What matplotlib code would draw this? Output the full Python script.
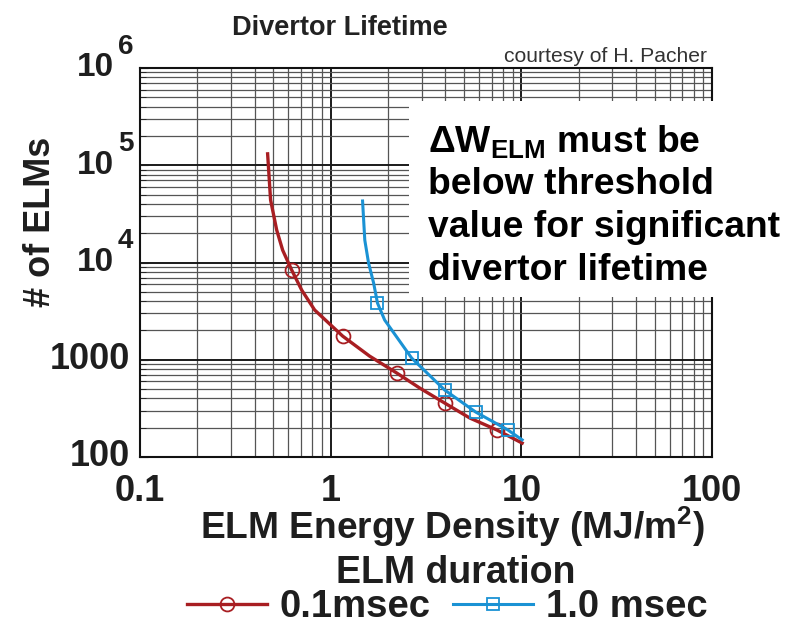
import matplotlib
matplotlib.use('Agg')
import matplotlib.pyplot as plt
from matplotlib.patches import Rectangle
from matplotlib.ticker import FixedLocator, LogLocator, NullFormatter
from matplotlib.transforms import offset_copy

plt.rcParams['font.family'] = ['Liberation Sans', 'DejaVu Sans']
plt.rcParams['font.weight'] = 'bold'
plt.rcParams['mathtext.fontset'] = 'custom'
plt.rcParams['mathtext.rm'] = 'Liberation Sans:bold'
plt.rcParams['mathtext.bf'] = 'Liberation Sans:bold'
plt.rcParams['mathtext.default'] = 'bf'

# curva 0.1 msec
red_x = [0.467, 0.484, 0.521, 0.56, 0.624, 0.705, 0.824, 1.156, 1.6, 2.22, 2.93, 3.96, 5.36, 7.43, 10.1]
red_y = [1.31e5, 4.4e4, 2.16e4, 1.34e4, 8.4e3, 5.2e3, 3.25e3, 1.75e3, 1.09e3, 731, 512, 359, 252, 190, 139]
red_marks = [4, 7, 9, 11, 13]

# curva 1.0 msec
blue_x = [1.47, 1.51, 1.58, 1.68, 1.76, 1.92, 2.66, 3.96, 5.76, 8.49, 10.1]
blue_y = [4.29e4, 1.7e4, 9.9e3, 6.15e3, 3.83e3, 2.56e3, 1.04e3, 489, 290, 190, 150]
blue_marks = [4, 6, 7, 8, 9]

x_ticks = [0.1, 1, 10, 100]
x_labels = ['0.1', '1', '10', '100']
y_ticks = [100, 1000, 1e4, 1e5, 1e6]
y_labels = ['100', '1000', '10', '10', '10']
y_exps = ['', '', '4', '5', '6']

note_lines = [r'$\Delta W_{ELM}$ must be', 'below threshold',
              'value for significant', 'divertor lifetime']

W, H = 800, 628
RED = '#a81e22'
BLUE = '#1a92d4'
INK = '#1e1e1e'
BIG = 27


def fx(x):
    return x / W


def fy(y):
    return 1 - y / H


fig = plt.figure(figsize=(W / 100, H / 100), dpi=100)
ax = fig.add_axes([fx(140), fy(457), fx(712) - fx(140), fy(68) - fy(457)])
ax.set_xscale('log')
ax.set_yscale('log')
ax.set_xlim(0.1, 100)
ax.set_ylim(100, 1e6)

ax.xaxis.set_major_locator(FixedLocator(x_ticks))
ax.set_xticklabels(x_labels)
ax.yaxis.set_major_locator(FixedLocator(y_ticks))
ax.set_yticklabels([])
ax.xaxis.set_minor_locator(LogLocator(base=10, subs=range(2, 10)))
ax.yaxis.set_minor_locator(LogLocator(base=10, subs=range(2, 10)))
ax.xaxis.set_minor_formatter(NullFormatter())
ax.yaxis.set_minor_formatter(NullFormatter())

ax.grid(True, which='major', color='#1a1a1a', lw=1.4)
ax.grid(True, which='minor', color='#555555', lw=0.9)
ax.set_axisbelow(True)
ax.tick_params(which='both', direction='in', labelsize=26, colors=INK)
ax.tick_params(axis='x', which='both', length=0, pad=12)
ax.tick_params(axis='y', which='major', length=6)
ax.tick_params(axis='y', which='minor', length=4)
for s in ax.spines.values():
    s.set_linewidth(1.5)
    s.set_color('#111111')

# rotulos do eixo y (potencias de 10 com expoente grande)
ytrans = ax.get_yaxis_transform()
for val, lab, exp in zip(y_ticks, y_labels, y_exps):
    if exp:
        t1 = offset_copy(ytrans, fig=fig, x=-26, y=0, units='dots')
        ax.text(0, val, lab, transform=t1, ha='right', va='center',
                fontsize=24, fontweight='bold', color=INK)
        t2 = offset_copy(ytrans, fig=fig, x=-22, y=21, units='dots')
        ax.text(0, val, exp, transform=t2, ha='left', va='center',
                fontsize=20, fontweight='bold', color=INK)
    else:
        t1 = offset_copy(ytrans, fig=fig, x=-10, y=0, units='dots')
        ax.text(0, val, lab, transform=t1, ha='right', va='center',
                fontsize=26, fontweight='bold', color=INK)

ax.plot(red_x, red_y, color=RED, lw=2.4, marker='o', markevery=red_marks,
        ms=10, mfc='none', mec=RED, mew=1.3, label='0.1msec')
ax.plot(blue_x, blue_y, color=BLUE, lw=2.2, marker='s', markevery=blue_marks,
        ms=9, mfc='none', mec=BLUE, mew=1.3, label='1.0 msec')

# caixa branca com o texto
fig.add_artist(Rectangle((fx(409), fy(297)), 1 - fx(409), fy(101) - fy(297),
                         transform=fig.transFigure, facecolor='white',
                         edgecolor='none', zorder=5))
for i, linha in enumerate(note_lines):
    fig.text(fx(428), fy(152 + 42.5 * i), linha, fontsize=26.8, fontweight='bold',
             color='black', va='baseline', zorder=6)

fig.text(fx(340), fy(28), 'Divertor Lifetime', fontsize=19.5, fontweight='bold',
         color='#222222', ha='center', va='center')
fig.text(fx(707), fy(62), 'courtesy of H. Pacher', fontsize=15.2,
         fontweight='normal', color='#333333', ha='right', va='baseline')
fig.text(fx(40), fy(222), '# of ELMs', fontsize=26, fontweight='bold',
         color=INK, rotation=90, ha='center', va='center')
fig.text(fx(452), fy(539), r'ELM Energy Density (MJ/m$^{2}$)', fontsize=26.7,
         fontweight='bold', color=INK, ha='center', va='baseline')
fig.text(fx(456), fy(583), 'ELM duration', fontsize=BIG, fontweight='bold',
         color=INK, ha='center', va='baseline')

leg = fig.legend(loc='center', bbox_to_anchor=(fx(447), fy(607)), ncol=2,
                 frameon=False, prop={'size': 27.5, 'weight': 'bold'},
                 handlelength=2.1, handletextpad=0.32, columnspacing=0.6,
                 borderaxespad=0)
for t in leg.get_texts():
    t.set_color(INK)

fig.savefig('out.png', dpi=100)
